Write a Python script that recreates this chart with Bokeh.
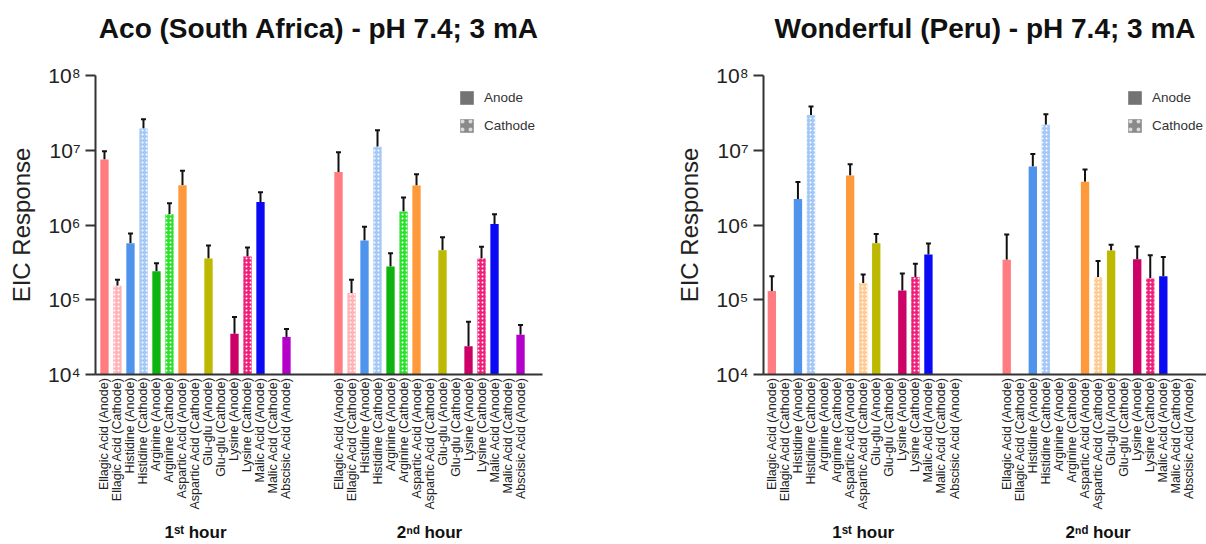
import math
from bokeh.plotting import figure
from bokeh.models import (ColumnDataSource, FixedTicker, Whisker, TeeHead,
                          Legend, LegendItem, Range1d, LinearAxis)
from bokeh.layouts import row
from bokeh.embed import file_html
from bokeh.resources import INLINE

# ---------------- data ----------------
labels = ["Ellagic Acid (Anode)", "Ellagic Acid (Cathode)", "Histidine (Anode)",
          "Histidine (Cathode)", "Arginine (Anode)", "Arginine (Cathode)",
          "Aspartic Acid (Anode)", "Aspartic Acid (Cathode)", "Glu-glu (Anode)",
          "Glu-glu (Cathode)", "Lysine (Anode)", "Lysine (Cathode)",
          "Malic Acid (Anode)", "Malic Acid (Cathode)", "Abscisic Acid (Anode)"]
colors = ["#FF7C80", "#FFB3B6", "#4F94EC", "#A3C8F5", "#0DB40D", "#2EE02E",
          "#FF9A3C", "#FFCB94", "#BDB800", "#BDB800", "#CC0066", "#F0207A",
          "#0A0AF5", "#0A0AF5", "#B400C8"]
groups = ["1\u02e2\u1d57 hour", "2\u207f\u1d48 hour"]

aco_h1 = [7.5e6, 1.54e5, 5.7e5, 1.95e7, 2.4e5, 1.39e6, 3.4e6, None, 3.56e5, None,
          3.5e4, 3.78e5, 2.03e6, None, 3.18e4]
aco_h1_sd = [2.2e6, 3.1e4, 2.0e5, 6.5e6, 6.8e4, 5.6e5, 1.9e6, None, 1.74e5, None,
             2.4e4, 1.22e5, 7.2e5, None, 8.8e3]
aco_h2 = [5.1e6, 1.23e5, 6.2e5, 1.11e7, 2.78e5, 1.52e6, 3.38e6, None, 4.6e5, None,
          2.39e4, 3.56e5, 1.03e6, None, 3.4e4]
aco_h2_sd = [4.3e6, 6.2e4, 3.3e5, 7.4e6, 1.41e5, 8.2e5, 1.41e6, None, 2.25e5, None,
             2.7e4, 1.54e5, 3.6e5, None, 1.2e4]

won_h1 = [1.31e5, None, 2.23e6, 2.97e7, None, None, 4.6e6, 1.66e5, 5.7e5, None,
          1.33e5, 2.01e5, 4.04e5, None, None]
won_h1_sd = [7.6e4, None, 1.54e6, 8.7e6, None, None, 1.9e6, 5.1e4, 1.9e5, None,
             9.2e4, 1.03e5, 1.63e5, None, None]
won_h2 = [3.44e5, None, 6.08e6, 2.19e7, None, None, 3.8e6, 2.0e5, 4.57e5, None,
          3.47e5, 1.92e5, 2.07e5, None, None]
won_h2_sd = [4.03e5, None, 2.82e6, 8.5e6, None, None, 1.74e6, 1.29e5, 8.8e4, None,
             1.7e5, 2.03e5, 1.65e5, None, None]

y_ticks = [1e4, 1e5, 1e6, 1e7, 1e8]
y_tick_labels = ["10\u2074", "10\u2075", "10\u2076", "10\u2077", "10\u2078"]

FONT = "Liberation Sans"
GROUP_STEP = 18
TXT = "#222222"
H = 544
B_TOP = 75
B_BOTTOM = 169


def make_chart(title, h1, h1_sd, h2, h2_sd, width, b_left, b_right, x_start, x_end,
               legend_x):
    p = figure(width=width, height=H, y_axis_type="log", title=None,
               x_range=Range1d(x_start, x_end), y_range=Range1d(1e4, 1e8),
               output_backend="svg", toolbar_location=None,
               min_border_left=b_left, min_border_right=b_right,
               min_border_top=B_TOP, min_border_bottom=B_BOTTOM)
    p.outline_line_color = None
    p.xgrid.visible = False
    p.ygrid.visible = False

    an = dict(x=[], top=[], up=[], color=[])
    ca = dict(x=[], top=[], up=[], color=[])
    for g, (vals, sds) in enumerate([(h1, h1_sd), (h2, h2_sd)]):
        for i, (v, s) in enumerate(zip(vals, sds)):
            if v is None:
                continue
            d = ca if "(Cathode)" in labels[i] else an
            d["x"].append(g * GROUP_STEP + i)
            d["top"].append(v)
            d["up"].append(v + s)
            d["color"].append(colors[i])
    src_a = ColumnDataSource(an)
    src_c = ColumnDataSource(ca)
    p.vbar(x="x", top="top", bottom=1e4, width=0.64, fill_color="color",
           line_color=None, source=src_a)
    p.vbar(x="x", top="top", bottom=1e4, width=0.64, fill_color="color",
           line_color=None, hatch_pattern="dot", hatch_color="white",
           hatch_scale=4, hatch_weight=2, source=src_c)
    for src in (src_a, src_c):
        p.add_layout(Whisker(base="x", lower="top", upper="up", dimension="height",
                             source=src, line_color="#111111", line_width=2,
                             lower_head=None,
                             upper_head=TeeHead(size=5, line_color="#111111",
                                                line_width=2)))

    # legend proxies (kept outside the visible x range)
    r_an = p.vbar(x=[-50], top=[1e5], bottom=1e4, width=0.6, fill_color="#737373",
                  line_color=None)
    r_ca = p.vbar(x=[-50], top=[1e5], bottom=1e4, width=0.6, fill_color="#8A8A8A",
                  line_color=None, hatch_pattern="dot", hatch_color="#DADADA",
                  hatch_scale=8, hatch_weight=2)
    leg = Legend(items=[LegendItem(label="Anode", renderers=[r_an]),
                        LegendItem(label="Cathode", renderers=[r_ca])],
                 location=(legend_x, 240), margin=0, padding=0, spacing=11,
                 glyph_width=17, glyph_height=17, label_height=17,
                 label_standoff=9, label_text_font=FONT,
                 label_text_font_size="13.5px", label_text_color="#333333",
                 background_fill_alpha=0, border_line_color=None)
    p.add_layout(leg)

    # y axis
    ya = p.yaxis[0]
    ya.ticker = FixedTicker(ticks=y_ticks, minor_ticks=[])
    ya.major_label_overrides = {t: s for t, s in zip(y_ticks, y_tick_labels)}
    ya.major_label_text_font = FONT
    ya.major_label_text_font_size = "21px"
    ya.major_label_text_color = TXT
    ya.major_label_standoff = 5
    ya.major_tick_out = 10
    ya.major_tick_in = 0
    ya.minor_tick_out = 0
    ya.minor_tick_in = 0
    ya.major_tick_line_width = 2
    ya.major_tick_line_color = "#333333"
    ya.axis_line_width = 2
    ya.axis_line_color = "#333333"
    ya.axis_label = "EIC Response"
    ya.axis_label_text_font = FONT
    ya.axis_label_text_font_size = "24px"
    ya.axis_label_text_font_style = "normal"
    ya.axis_label_text_color = TXT
    ya.axis_label_standoff = 10

    # x axis (the figure's own axis below the frame)
    xa = p.below[0]
    ticks = [g * GROUP_STEP + i for g in range(2) for i in range(len(labels))]
    xa.ticker = FixedTicker(ticks=ticks, minor_ticks=[])
    xa.major_label_overrides = {t: labels[t % GROUP_STEP] for t in ticks}
    xa.major_label_orientation = math.pi / 2
    xa.major_label_text_font = FONT
    xa.major_label_text_font_size = "12.5px"
    xa.major_label_text_color = TXT
    xa.major_label_standoff = 3
    xa.major_tick_out = 0
    xa.major_tick_in = 0
    xa.minor_tick_out = 0
    xa.minor_tick_in = 0
    xa.axis_line_width = 2
    xa.axis_line_color = "#333333"

    # group axis (1st hour / 2nd hour)
    centers = [g * GROUP_STEP + (len(labels) - 1) / 2 for g in range(len(groups))]
    ga = LinearAxis(ticker=FixedTicker(ticks=centers, minor_ticks=[]),
                    major_label_overrides={c: n for c, n in zip(centers, groups)})
    ga.axis_line_color = None
    ga.major_tick_line_color = None
    ga.minor_tick_line_color = None
    ga.major_tick_out = 0
    ga.major_tick_in = 0
    ga.major_label_text_font = FONT
    ga.major_label_text_font_size = "17px"
    ga.major_label_text_font_style = "bold"
    ga.major_label_text_color = "#111111"
    ga.major_label_standoff = 10
    p.add_layout(ga, "below")

    # title: label of an empty axis above the frame
    ta = LinearAxis(ticker=FixedTicker(ticks=[], minor_ticks=[]))
    ta.axis_line_color = None
    ta.major_tick_line_color = None
    ta.minor_tick_line_color = None
    ta.major_tick_out = 0
    ta.major_tick_in = 0
    ta.minor_tick_out = 0
    ta.minor_tick_in = 0
    ta.axis_label = title
    ta.axis_label_text_font = FONT
    ta.axis_label_text_font_size = "28px"
    ta.axis_label_text_font_style = "bold"
    ta.axis_label_text_color = "#111111"
    ta.axis_label_standoff = 32
    p.add_layout(ta, "above")
    return p


p1 = make_chart("Aco (South Africa) - pH 7.4; 3 mA", aco_h1, aco_h1_sd, aco_h2,
                aco_h2_sd, 640, 95, 98, -0.69, 33.69, 363)
p2 = make_chart("Wonderful (Peru) - pH 7.4; 3 mA", won_h1, won_h1_sd, won_h2,
                won_h2_sd, 566, 123, 0, -0.64, 33.31, 363)

layout = row(p1, p2, spacing=0)
open("out.html", "w").write(file_html(layout, INLINE))
